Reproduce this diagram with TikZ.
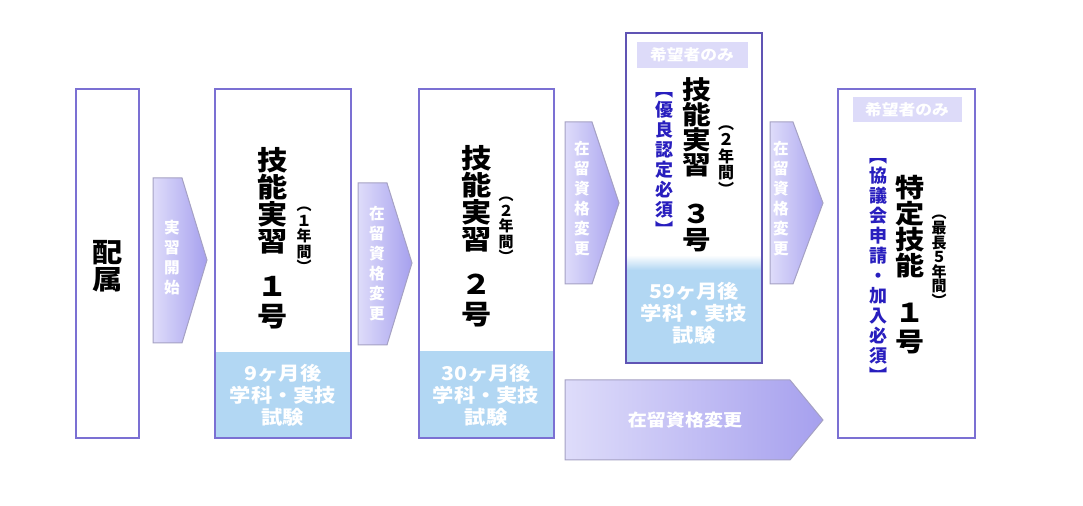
\documentclass[tikz,border=0pt]{standalone}
\usepackage{fontspec}
\newfontfamily\jp{Noto Sans CJK JP}
\newfontfamily\jpl[FakeStretch=1.12]{Noto Sans CJK JP}
\definecolor{cadre}{RGB}{123,112,211}
\definecolor{cadrefonce}{RGB}{96,84,180}
\definecolor{bleuclair}{RGB}{178,215,243}
\definecolor{lavclair}{RGB}{222,220,250}
\definecolor{lavfonce}{RGB}{166,160,238}
\definecolor{lavpale}{RGB}{221,219,249}
\definecolor{grisfleche}{RGB}{165,161,195}
\definecolor{encre}{RGB}{40,30,190}

\begin{document}
\begin{tikzpicture}[x=0.5pt,y=-0.5pt]

% définition des styles
\tikzstyle{boite}=[draw=cadre,line width=0.75pt]
\tikzstyle{examen}=[fill=bleuclair]
\tikzstyle{fleche}=[draw=grisfleche,line width=0.5pt,left color=lavclair,right color=lavfonce]
\tikzstyle{gros}=[anchor=north,align=center,inner sep=0pt,font=\jpl\bfseries\fontsize{13.5}{13.5}\selectfont]
\tikzstyle{moyen}=[anchor=north,align=center,inner sep=0pt,font=\jpl\bfseries\fontsize{12.8}{12.6}\selectfont]
\tikzstyle{paren}=[anchor=north,align=center,inner sep=0pt,font=\jp\bfseries\fontsize{7.5}{7.7}\selectfont]
\tikzstyle{bleu}=[anchor=north,align=center,inner sep=0pt,text=encre,font=\jp\bfseries\fontsize{9}{10}\selectfont]
\tikzstyle{note}=[align=center,inner sep=0pt,text=white,font=\jpl\bfseries\fontsize{9.5}{11}\selectfont]
\tikzstyle{texfleche}=[align=center,inner sep=0pt,text=white,font=\jp\bfseries\fontsize{7.8}{10}\selectfont]
\tikzstyle{etiquette}=[fill=lavpale,text=white,inner sep=0pt,font=\jpl\bfseries\fontsize{7.5}{8}\selectfont]

\useasboundingbox (0,0) rectangle (1083,506);

% les zones bleues
\fill[examen] (215,352) rectangle (351,438);
\fill[examen] (419,351) rectangle (554,438);
\shade[top color=white,bottom color=bleuclair] (626,255) rectangle (762,270);
\fill[examen] (626,270) rectangle (762,363);

% les boites
\draw[boite] (76,89) rectangle (139,438);
\draw[boite] (215,89) rectangle (351,438);
\draw[boite] (419,89) rectangle (554,438);
\draw[boite,draw=cadrefonce,line width=1pt] (626,33) rectangle (762,363);
\draw[boite] (838,89) rectangle (975,438);

% les flèches
\shade[fleche] (153,178) -- (182,178) -- (207,260) -- (182,343) -- (153,343) -- cycle;
\shade[fleche] (358,183) -- (387,183) -- (412,263) -- (387,345) -- (358,345) -- cycle;
\shade[fleche] (565,122) -- (592,122) -- (619,203) -- (592,284) -- (565,284) -- cycle;
\shade[fleche] (770,122) -- (793,122) -- (823,203) -- (793,284) -- (770,284) -- cycle;
\shade[fleche] (565,380) -- (790,380) -- (823,420) -- (790,460) -- (565,460) -- cycle;

% les textes des flèches
\node[texfleche] (debut) at (172,258) {実\\習\\開\\始};
\node[texfleche] (chg1) at (377,264) {在\\留\\資\\格\\変\\更};
\node[texfleche] (chg2) at (582,199) {在\\留\\資\\格\\変\\更};
\node[texfleche] (chg3) at (781,199) {在\\留\\資\\格\\変\\更};
\node[texfleche,font=\jpl\bfseries\fontsize{8.5}{10}\selectfont] (chg4) at (685,420) {在留資格変更};

% les textes des boites
\node[gros] (haizoku) at (108,240) {配\\属};

\node[gros] (gino1) at (273,147) {技\\能\\実\\習\\[9pt]１\\[1.5pt]号};
\node[paren] (gino1p) at (304,207) {︵\\１\\年\\間\\︶};
\node[note] (exam1) at (283,395) {9ヶ月後\\学科・実技\\試験};

\node[gros] (gino2) at (477,145) {技\\能\\実\\習\\[9pt]２\\[1.5pt]号};
\node[paren] (gino2p) at (506,197) {︵\\２\\年\\間\\︶};
\node[note] (exam2) at (486,395) {30ヶ月後\\学科・実技\\試験};

\node[etiquette,minimum width=55.5pt,minimum height=13pt] (souhait3) at (692,55) {希望者のみ};
\node[moyen] (gino3) at (697,77) {技\\能\\実\\習\\[11.5pt]３\\[0.5pt]号};
\node[paren,font=\jp\bfseries\fontsize{8}{8.3}\selectfont] (gino3p) at (726,125) {︵\\２\\年\\間\\︶};
\node[bleu] (yuryo) at (664,92) {︻\\優\\良\\認\\定\\必\\須\\︼};
\node[note] (exam3) at (694,313) {59ヶ月後\\学科・実技\\試験};

\node[etiquette,minimum width=54.5pt,minimum height=12.5pt] (souhait5) at (907,110) {希望者のみ};
\node[moyen,font=\jpl\bfseries\fontsize{13}{13}\selectfont] (tokutei) at (910,175) {特\\定\\技\\能\\[10.5pt]１\\[1.5pt]号};
\node[paren,font=\jp\bfseries\fontsize{7.5}{7.3}\selectfont] (tokuteip) at (939,215) {︵\\最\\長\\５\\年\\間\\︶};
\node[bleu] (kyogi) at (878,158) {︻\\協\\議\\会\\申\\請\\・\\加\\入\\必\\須\\︼};

\end{tikzpicture}
\end{document}
